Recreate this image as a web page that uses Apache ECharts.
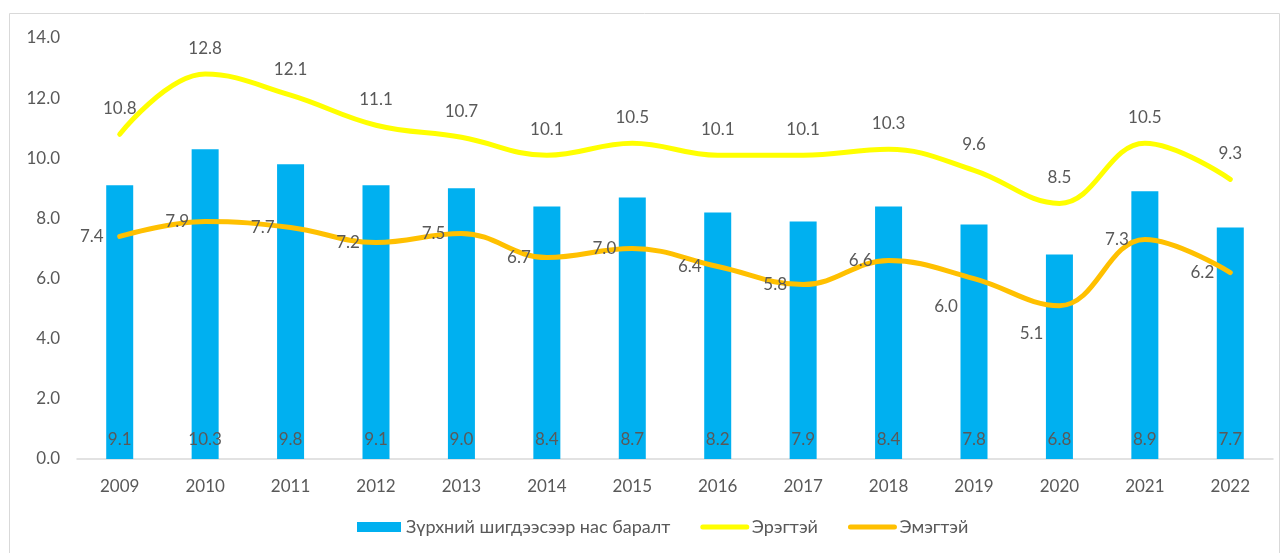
<!DOCTYPE html>
<html>
<head>
<meta charset="utf-8">
<script src="https://cdn.jsdelivr.net/npm/echarts@6/dist/echarts.min.js"></script>
<style>
  html, body { margin: 0; padding: 0; background: #fff; }
  #main { width: 1286px; height: 553px; }
</style>
</head>
<body>
<div id="main"></div>
<script>
const years = ['2009', '2010', '2011', '2012', '2013', '2014', '2015', '2016', '2017', '2018', '2019', '2020', '2021', '2022']
const total = [9.1, 10.3, 9.8, 9.1, 9.0, 8.4, 8.7, 8.2, 7.9, 8.4, 7.8, 6.8, 8.9, 7.7]
const male = [10.8, 12.8, 12.1, 11.1, 10.7, 10.1, 10.5, 10.1, 10.1, 10.3, 9.6, 8.5, 10.5, 9.3]
const female = [7.4, 7.9, 7.7, 7.2, 7.5, 6.7, 7.0, 6.4, 5.8, 6.6, 6.0, 5.1, 7.3, 6.2]

const textColor = '#595959'
const font = 'Lato, "Open Sans", sans-serif'

// a couple of the female labels sit lower-left in the original
const femaleData = female.map((v, i) => (i === 10 || i === 11)
  ? { value: v, label: { position: [-16, 28], align: 'right', verticalAlign: 'middle' } }
  : v)

const chart = echarts.init(document.getElementById('main'))
chart.setOption({
  animation: false,
  textStyle: { fontFamily: font },
  graphic: [{
    type: 'rect',
    shape: { x: 9.5, y: 13.5, width: 1270, height: 560 },
    style: { fill: 'none', stroke: '#d9d9d9', lineWidth: 1 },
    silent: true
  }],
  grid: { left: 77, right: 13, top: 38, bottom: 94 },
  legend: {
    bottom: 12,
    left: 352,
    itemGap: 30,
    itemWidth: 44,
    itemHeight: 10,
    textStyle: { color: textColor, fontSize: 18, fontFamily: font },
    data: [
      { name: 'Зүрхний шигдээсээр нас баралт', icon: 'rect' },
      { name: 'Эрэгтэй', itemStyle: { opacity: 0 }, lineStyle: { width: 5, cap: 'round' } },
      { name: 'Эмэгтэй', itemStyle: { opacity: 0 }, lineStyle: { width: 5, cap: 'round' } }
    ]
  },
  xAxis: {
    type: 'category',
    data: years,
    axisLine: { lineStyle: { color: '#d9d9d9', width: 1.5 } },
    axisTick: { show: false },
    axisLabel: { color: textColor, fontSize: 17, margin: 19 }
  },
  yAxis: {
    type: 'value',
    min: 0,
    max: 14,
    interval: 2,
    splitLine: { show: false },
    axisLine: { show: false },
    axisLabel: {
      color: textColor,
      fontSize: 17,
      margin: 17,
      formatter: v => v.toFixed(1)
    }
  },
  series: [
    {
      name: 'Зүрхний шигдээсээр нас баралт',
      type: 'bar',
      data: total,
      barWidth: 27,
      itemStyle: { color: '#00B0F0' },
      label: {
        show: true,
        position: 'insideBottom',
        distance: 11,
        color: textColor,
        fontSize: 17,
        formatter: p => p.value.toFixed(1)
      }
    },
    {
      name: 'Эрэгтэй',
      type: 'line',
      data: male,
      smooth: 0.4,
      symbol: 'circle',
      symbolSize: 0.1,
      lineStyle: { color: '#FFFF00', width: 5, cap: 'round' },
      itemStyle: { color: '#FFFF00' },
      label: {
        show: true,
        position: 'top',
        distance: 17,
        color: textColor,
        fontSize: 17,
        formatter: p => p.value.toFixed(1)
      }
    },
    {
      name: 'Эмэгтэй',
      type: 'line',
      data: femaleData,
      smooth: 0.4,
      symbol: 'circle',
      symbolSize: 0.1,
      lineStyle: { color: '#FFC000', width: 5, cap: 'round' },
      itemStyle: { color: '#FFC000' },
      label: {
        show: true,
        position: 'left',
        distance: 16,
        color: textColor,
        fontSize: 17,
        formatter: p => p.value.toFixed(1)
      }
    }
  ]
})
</script>
</body>
</html>
